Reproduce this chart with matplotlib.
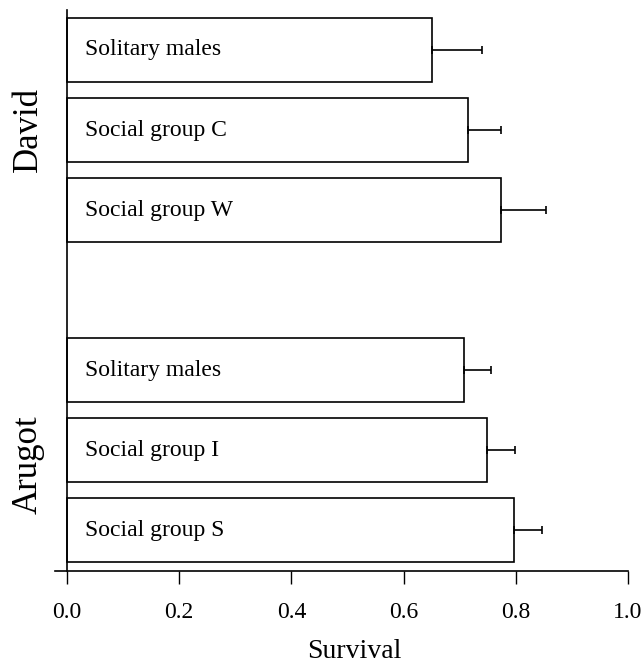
import matplotlib.pyplot as plt

plt.rcParams['font.family'] = ['Liberation Serif', 'DejaVu Serif']

# Survival estimates (top to bottom)
sites = ['David', 'Arugot']
groups = ['Solitary males', 'Social group C', 'Social group W',
          'Solitary males', 'Social group I', 'Social group S']
survival = [0.650, 0.714, 0.774, 0.707, 0.749, 0.796]
upper = [0.740, 0.774, 0.854, 0.756, 0.799, 0.846]
positions = [0, 1, 2, 4, 5, 6]
xticks = [0.0, 0.2, 0.4, 0.6, 0.8, 1.0]

err = [u - s for u, s in zip(upper, survival)]

fig = plt.figure(figsize=(6.43, 6.65), dpi=100)
ax = fig.add_axes([0.0855, 0.1414, 0.8912, 0.8436])

ax.barh(positions, survival, height=0.8, color='white', edgecolor='black', linewidth=1.2)
ax.errorbar(survival, positions, xerr=[[0] * len(err), err], fmt='none',
            ecolor='black', elinewidth=1.2, capsize=3, capthick=1.2)

for p, g in zip(positions, groups):
    ax.text(0.032, p, g, va='center', ha='left', fontsize=17)

ax.set_xlim(-0.0215, 1.0)
ax.set_ylim(6.51, -0.5)
ax.set_yticks([])
ax.set_xticks(xticks)
ax.set_xticklabels(['%.1f' % t for t in xticks], fontsize=17)
ax.tick_params(axis='x', length=9, width=1, pad=13)
ax.set_xlabel('Survival', fontsize=20)
ax.xaxis.set_label_coords(0.522, -0.121)

ax.spines['top'].set_visible(False)
ax.spines['right'].set_visible(False)
ax.spines['left'].set_position(('data', 0))
for s in ['left', 'bottom']:
    ax.spines[s].set_linewidth(1.2)

# Site labels to the left of the axis
fig.text(28 / 643, 1 - 130 / 665, sites[0], rotation=90, ha='center', va='center', fontsize=25)
fig.text(28 / 643, 1 - 465 / 665, sites[1], rotation=90, ha='center', va='center', fontsize=25)

fig.savefig('out.png', dpi=100)
